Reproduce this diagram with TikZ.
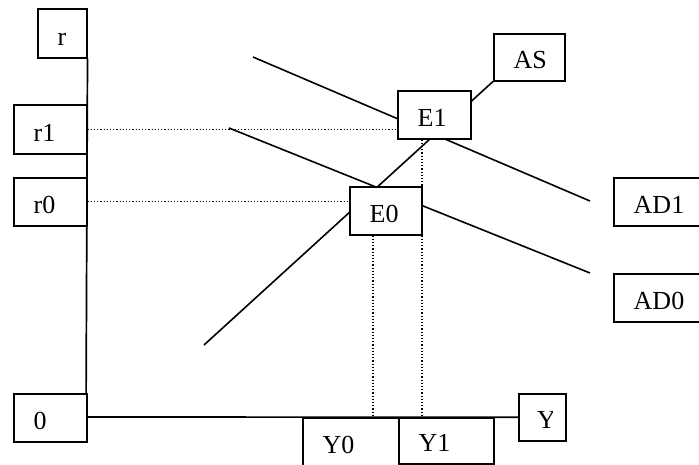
\documentclass[tikz,border=0pt]{standalone}
\usepackage{fontspec}
\setmainfont{Liberation Serif}
\usetikzlibrary{calc}
\pgfdeclarelayer{bg}
\pgfsetlayers{bg,main}
\tikzset{
  boxsty/.style={draw, line width=1.5pt, fill=white, inner sep=0pt, anchor=north west},
  txtsty/.style={inner sep=0pt, anchor=base west, font=\fontsize{26}{30}\selectfont},
  econline/.style={line width=1.6pt},
  axisline/.style={line width=1.7pt},
  dotline/.style={line width=1.3pt, dash pattern=on 1.2pt off 2pt},
}
\newcommand\mkbox[6]{%
  \node[boxsty, minimum width=#4pt, minimum height=#5pt] (#1) at (#2,#3) {};
  \node[txtsty] (#1t) at ($(#1.south west)+(20.5,-13)$) {#6};
}
\begin{document}
\begin{tikzpicture}[x=1pt,y=-1pt]
\useasboundingbox (0,0) rectangle (699,464);
\clip (0,0) rectangle (699,464);
% free ends
\coordinate (O) at (86,417);
\coordinate (ad1s) at (253,57);
\coordinate (ad1e) at (590,201);
\coordinate (ad0s) at (229,128);
\coordinate (ad0e) at (590,273);
\coordinate (ass) at (204,345);
\coordinate (q0) at (373,417);
\coordinate (q1) at (422,417);
% boxes
\mkbox{rb}{37}{8}{49}{49}{r}
\mkbox{r1b}{13}{104}{73}{49}{r1}
\mkbox{r0b}{13}{177}{73}{48}{r0}
\mkbox{ob}{13}{393}{73}{48}{0}
\mkbox{e1}{397}{90}{73}{48}{E1}
\mkbox{e0}{349}{186}{72}{48}{E0}
\mkbox{as}{493}{33}{71}{47}{AS}
\mkbox{ad1}{613}{177}{100}{48}{AD1}
\mkbox{ad0}{613}{273}{100}{48}{AD0}
\mkbox{y0}{302}{417}{96}{48}{Y0}
\mkbox{y1}{398}{417}{95}{46}{Y1}
\node[boxsty, minimum width=47pt, minimum height=47pt] (yb) at (518,393) {};
\begin{scope}
  \clip (518,380) rectangle (552,445);
  \node[txtsty] (ybt) at ($(yb.south west)+(19,-13)$) {Y};
\end{scope}
\begin{pgfonlayer}{bg}
  \draw[axisline] (rb.south east) -- (O);
  \draw[axisline] (O) -- (yb.west);
  \draw[econline] (ad1s) -- (ad1e);
  \draw[econline] (ad0s) -- (ad0e);
  \draw[econline] (ass) -- (as.south west);
  \draw[dotline] (r1b.east) -- (r1b.east -| e1.west);
  \draw[dotline] (r0b.east) -- (r0b.east -| e0.west);
  \draw[dotline] (e0.south -| q0) -- (q0);
  \draw[dotline] (e1.south -| q1) -- (q1);
\end{pgfonlayer}
\end{tikzpicture}
\end{document}
